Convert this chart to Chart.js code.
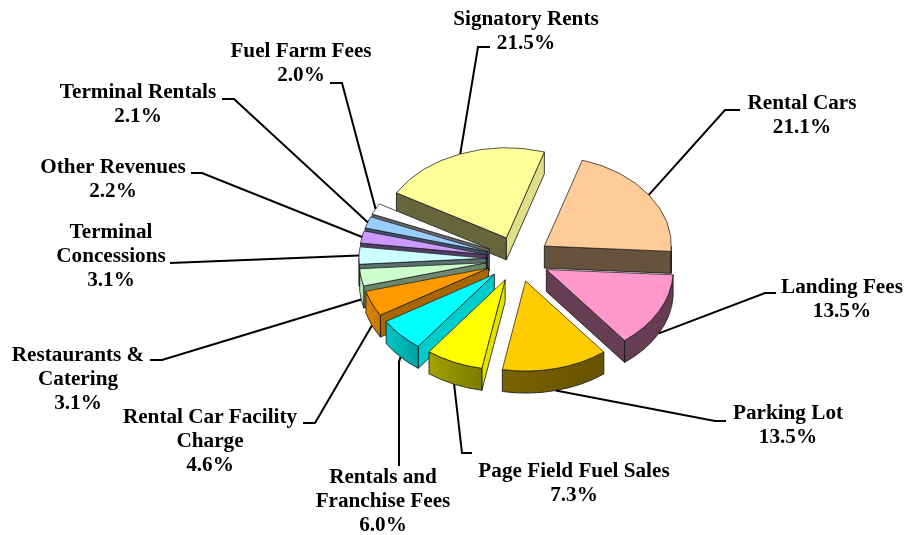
<!DOCTYPE html>
<html>
<head>
<meta charset="utf-8">
<script src="https://cdn.jsdelivr.net/npm/chart.js@4"></script>
<style>
html,body{margin:0;padding:0;background:#fff;}
canvas{display:block;}
</style>
</head>
<body>
<canvas id="c" width="906" height="535"></canvas>
<script>
// Data
const categories = ["Signatory Rents","Rental Cars","Landing Fees","Parking Lot","Page Field Fuel Sales","Rentals and Franchise Fees","Rental Car Facility Charge","Restaurants & Catering","Terminal Concessions","Other Revenues","Terminal Rentals","Fuel Farm Fees"];
const shares = [21.5,21.1,13.5,13.5,7.3,6.0,4.6,3.1,3.1,2.2,2.1,2.0];
const shareLabels = ["21.5%","21.1%","13.5%","13.5%","7.3%","6.0%","4.6%","3.1%","3.1%","2.2%","2.1%","2.0%"];
const sliceColors = ["#FFFF99","#FFCC99","#FF99CC","#FFCC00","#FFFF00","#00FFFF","#FF9900","#CCFFCC","#CCFFFF","#CC99FF","#99CCFF","#FFFFFF"];

// Label layout (separate from data): wrapped lines, label centre x, first line mid y, leader elbows
const labelLines = [["Signatory Rents"],["Rental Cars"],["Landing Fees"],["Parking Lot"],["Page Field Fuel Sales"],["Rentals and","Franchise Fees"],["Rental Car Facility","Charge"],["Restaurants &","Catering"],["Terminal","Concessions"],["Other Revenues"],["Terminal Rentals"],["Fuel Farm Fees"]];
const labelAnchors = [[526,20],[802,104],[842,288],[788,414],[574,472],[383,478],[210,418],[78,356],[111,233],[113,168],[138,93],[301,52]];
const leaderElbows = [
  [[478,47],[490,47]],
  [[725,110],[740,110]],
  [[765,293],[776,293]],
  [[715,421],[726,421]],
  [[462,453],[472,453]],
  [[399,362],[399,466]],
  [[315,423],[303,423]],
  [[162,360],[150,360]],
  [[170,263]],
  [[202,173],[191,173]],
  [[234,99],[222,99]],
  [[342,83],[330,83]]
];

// 3D look
const TILT = 0.709, DEPTH = 22, EXPLODE = 32, RADIUS = 127;
const FONT = 'bold 21.2px "Liberation Serif"';
const LINE_H = 24;

function shadeColor(hex, f){
  const n = parseInt(hex.slice(1),16);
  return `rgb(${Math.round((n>>16&255)*f)},${Math.round((n>>8&255)*f)},${Math.round((n&255)*f)})`;
}
function rimShade(phi){
  const theta = phi*180/Math.PI + 90;
  if(theta <= 170) return 0.4;
  if(theta <= 190) return 0.4 + (theta-170)*0.004;
  return Math.min(0.95, 0.48 + (theta-190)*0.006);
}
function sliceOrigin(a){
  const mid = (a.startAngle+a.endAngle)/2;
  return {x:a.x+Math.cos(mid)*EXPLODE, y:a.y+Math.sin(mid)*EXPLODE*TILT};
}
function radialWall(ctx,o,a,phi,outerNx,color){
  const R = a.outerRadius;
  const px = o.x+Math.cos(phi)*R, py = o.y+Math.sin(phi)*R*TILT;
  ctx.beginPath();
  ctx.moveTo(o.x,o.y);ctx.lineTo(px,py);ctx.lineTo(px,py+DEPTH);ctx.lineTo(o.x,o.y+DEPTH);ctx.closePath();
  ctx.fillStyle = shadeColor(color,0.4+0.5*Math.max(0,outerNx));
  ctx.fill();ctx.stroke();
}
function drawWalls(ctx,a,color){
  const o = sliceOrigin(a), R = a.outerRadius;
  ctx.strokeStyle = '#111';ctx.lineWidth = 0.8;ctx.lineJoin='round';
  if(Math.cos(a.startAngle)<0) radialWall(ctx,o,a,a.startAngle,Math.sin(a.startAngle),color);
  if(Math.cos(a.endAngle)>0) radialWall(ctx,o,a,a.endAngle,-Math.sin(a.endAngle),color);
  const a1 = Math.max(a.startAngle,0), a2 = Math.min(a.endAngle,Math.PI);
  if(a2>a1){
    const x1 = o.x+Math.cos(a1)*R, x2 = o.x+Math.cos(a2)*R;
    const g = ctx.createLinearGradient(x1,0,x2,0);
    g.addColorStop(0,shadeColor(color,rimShade(a1)));
    g.addColorStop(1,shadeColor(color,rimShade(a2)));
    ctx.beginPath();
    ctx.ellipse(o.x,o.y,R,R*TILT,0,a1,a2,false);
    ctx.ellipse(o.x,o.y+DEPTH,R,R*TILT,0,a2,a1,true);
    ctx.closePath();
    ctx.fillStyle = g;ctx.fill();ctx.stroke();
  }
}

const pie3d = {
  id:'pie3d',
  beforeDatasetsDraw(chart){
    const ctx = chart.ctx, arcs = chart.getDatasetMeta(0).data;
    const order = arcs.map((a,i)=>i).sort((p,q)=>{
      const s = i=>Math.sin((arcs[i].startAngle+arcs[i].endAngle)/2);
      return s(p)-s(q);
    });
    order.forEach(i=>{
      const a = arcs[i], o = sliceOrigin(a);
      drawWalls(ctx,a,sliceColors[i]);
      ctx.save();
      ctx.translate(o.x,o.y);
      ctx.scale(1,TILT);
      ctx.translate(-a.x,-a.y);
      a.draw(ctx);
      ctx.restore();
    });
    return false;
  },
  afterDraw(chart){
    const ctx = chart.ctx, arcs = chart.getDatasetMeta(0).data;
    ctx.save();
    ctx.strokeStyle='#000';ctx.lineWidth=2;ctx.lineJoin='miter';
    arcs.forEach((a,i)=>{
      const mid=(a.startAngle+a.endAngle)/2, o=sliceOrigin(a);
      const sx=o.x+Math.cos(mid)*a.outerRadius;
      const sy=o.y+Math.sin(mid)*a.outerRadius*TILT+(Math.sin(mid)>0?DEPTH:0);
      ctx.beginPath();ctx.moveTo(sx,sy);
      leaderElbows[i].forEach(p=>ctx.lineTo(p[0],p[1]));
      ctx.stroke();
    });
    ctx.fillStyle='#000';ctx.font=FONT;ctx.textAlign='center';ctx.textBaseline='middle';
    categories.forEach((c,i)=>{
      const [x,y]=labelAnchors[i];
      const lines=labelLines[i].concat(shareLabels[i]);
      lines.forEach((t,k)=>ctx.fillText(t,x,y+k*LINE_H));
    });
    ctx.restore();
  }
};

new Chart(document.getElementById('c'),{
  type:'pie',
  data:{labels:categories,datasets:[{data:shares,backgroundColor:sliceColors,borderColor:'#222',borderWidth:0.9}]},
  options:{
    responsive:false,animation:false,events:[],
    rotation:-60,
    radius:RADIUS,
    layout:{padding:{left:130,bottom:17}},
    plugins:{legend:{display:false},tooltip:{enabled:false},title:{display:false}}
  },
  plugins:[pie3d]
});
</script>
</body>
</html>
